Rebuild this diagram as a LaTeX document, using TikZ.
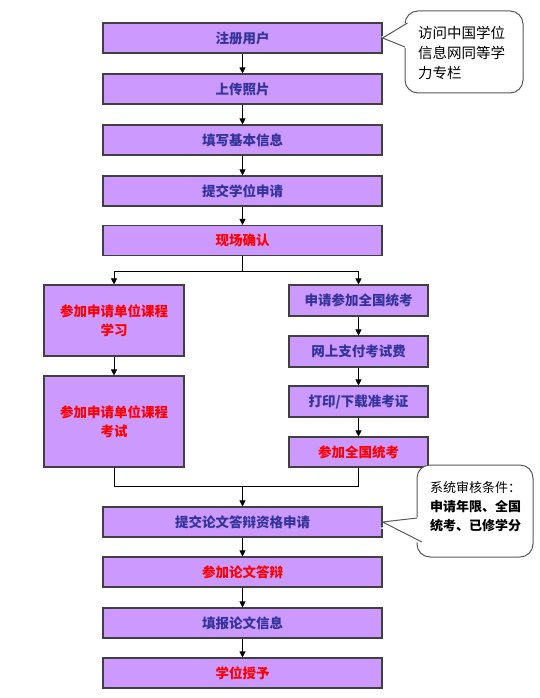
\documentclass[tikz,border=0pt]{standalone}
\usepackage{fontspec}
\setmainfont{Noto Sans CJK SC}
\usetikzlibrary{arrows.meta}
\definecolor{boxfill}{HTML}{CC99FF}
\definecolor{boxline}{HTML}{404040}
\definecolor{navy}{HTML}{333399}
\definecolor{redtxt}{HTML}{FF0000}
\tikzset{
  stepbox/.style={draw=boxline, line width=1.1pt, fill=boxfill, inner sep=0pt,
    font=\fontsize{13.5}{19}\selectfont\bfseries, align=center},
  bluetxt/.style={text=navy},
  redt/.style={text=redtxt},
  arr/.style={-{Triangle[length=6pt,width=6pt]}, line width=0.8pt, black},
  ln/.style={line width=0.8pt, black},
  callout/.style={draw=black!65, line width=1pt, fill=white, rounded corners=13pt},
}
\begin{document}
\begin{tikzpicture}[x=1pt,y=-1pt]
\useasboundingbox (0,0) rectangle (540,698);
\node[stepbox,bluetxt,minimum width=279pt,minimum height=30pt] (b1) at (242.5,38) {注册用户};
\node[stepbox,bluetxt,minimum width=279pt,minimum height=30pt] (b2) at (242.5,89) {上传照片};
\node[stepbox,bluetxt,minimum width=279pt,minimum height=30pt] (b3) at (242.5,140) {填写基本信息};
\node[stepbox,bluetxt,minimum width=279pt,minimum height=30pt] (b4) at (242.5,191) {提交学位申请};
\node[stepbox,redt,minimum width=279pt,minimum height=30pt] (b5) at (242.5,240.5) {现场确认};
% left branch
\node[stepbox,redt,minimum width=140pt,minimum height=71pt] (l1) at (114,320.5) {参加申请单位课程\\学习};
\node[stepbox,redt,minimum width=140pt,minimum height=91pt] (l2) at (114,421.5) {参加申请单位课程\\考试};
% right branch
\node[stepbox,bluetxt,minimum width=139pt,minimum height=31pt] (r1) at (358.5,300.5) {申请参加全国统考};
\node[stepbox,bluetxt,minimum width=139pt,minimum height=31pt] (r2) at (358.5,351.5) {网上支付考试费};
\node[stepbox,bluetxt,minimum width=139pt,minimum height=31pt] (r3) at (358.5,401.5) {打印/下载准考证};
\node[stepbox,redt,minimum width=139pt,minimum height=30pt] (r4) at (358.5,452) {参加全国统考};
% lower main column
\node[stepbox,bluetxt,minimum width=279pt,minimum height=30pt] (c1) at (242.5,522) {提交论文答辩资格申请};
\node[stepbox,redt,minimum width=279pt,minimum height=30pt] (c2) at (242.5,572) {参加论文答辩};
\node[stepbox,bluetxt,minimum width=279pt,minimum height=30pt] (c3) at (242.5,623) {填报论文信息};
\node[stepbox,redt,minimum width=279pt,minimum height=30pt] (c4) at (242.5,673) {学位授予};
% connectors
\draw[arr] (b1) -- (b2);
\draw[arr] (b2) -- (b3);
\draw[arr] (b3) -- (b4);
\draw[arr] (b4) -- (b5);
\coordinate (split) at (242.5,271);
\draw[ln] (b5.south) -- (split);
\draw[arr] (split) -| (l1.north);
\draw[arr] (split) -| (r1.north);
\draw[arr] (l1) -- (l2);
\draw[arr] (r1) -- (r2);
\draw[arr] (r2) -- (r3);
\draw[arr] (r3) -- (r4);
\coordinate (merge) at (242.5,486);
\draw[ln] (l2.south) |- (merge);
\draw[ln] (r4.south) |- (merge);
\draw[arr] (merge) -- (c1);
\draw[arr] (c1) -- (c2);
\draw[arr] (c2) -- (c3);
\draw[arr] (c3) -- (c4);
% callout 1
\draw[callout] (405,11) rectangle (523,93);
\fill[white] (381,37) -- (408,22) -- (408,49) -- cycle;
\draw[black!65, line width=1pt] (407.5,23) -- (b1.east) -- (405,47);
\node[font=\fontsize{14.5}{20}\selectfont, align=left, anchor=north west, inner sep=0pt] (t1) at (418,26) {访问中国学位\\信息网同等学\\力专栏};
% callout 2
\draw[callout] (417,465) rectangle (533,557);
\fill[white] (380,528) -- (419,517) -- (423,543) -- (419,543) -- cycle;
\draw[black!65, line width=1pt] (417,518) -- (c1.east) -- (422,542);
\node[font=\fontsize{13}{19}\selectfont, align=left, anchor=north west, inner sep=0pt] (t2) at (430,481) {系统审核条件：\\\textbf{申请年限、全国}\\\textbf{统考、已修学分}};
\end{tikzpicture}
\end{document}
